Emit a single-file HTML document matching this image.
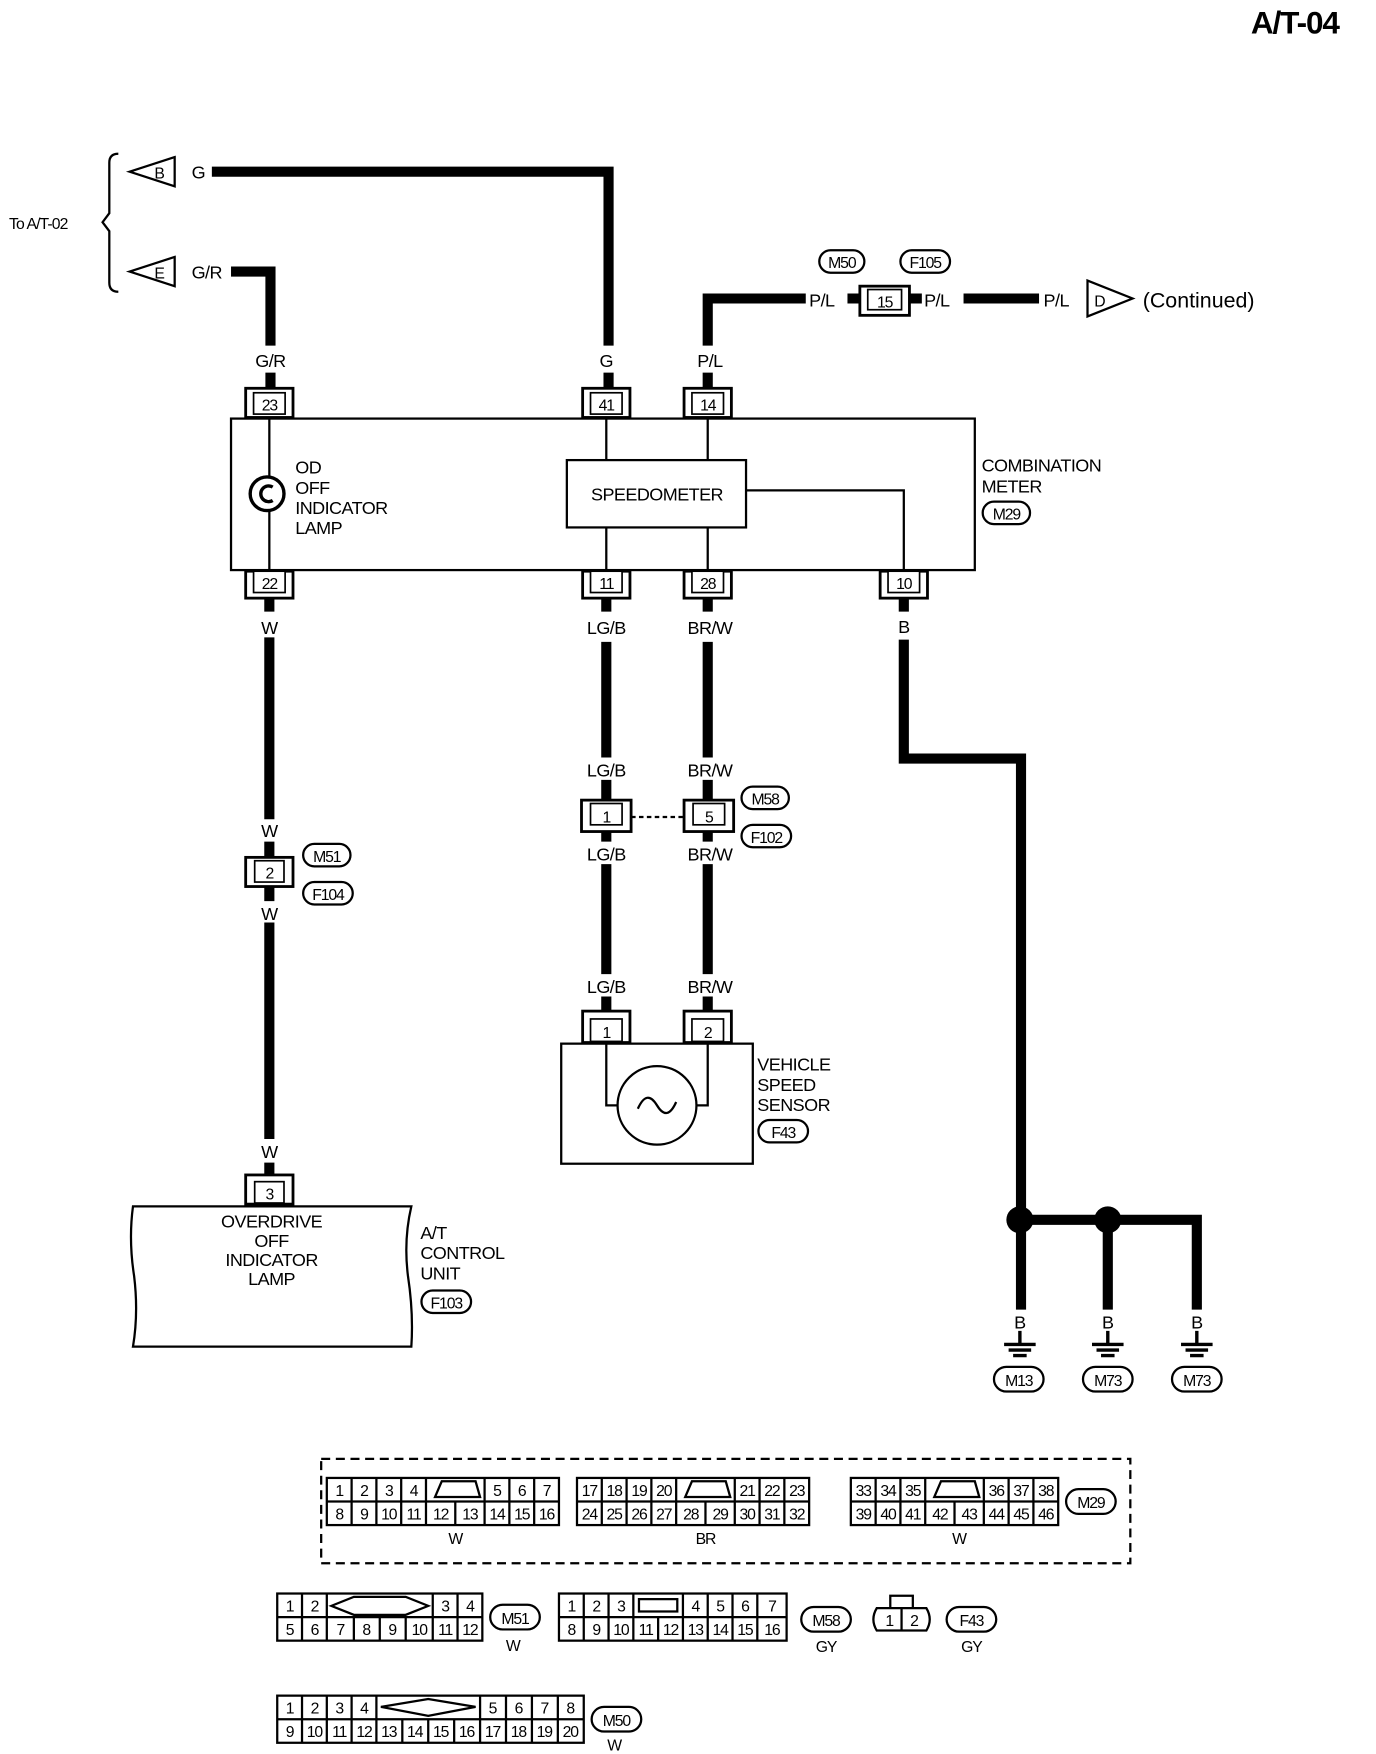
<!DOCTYPE html>
<html><head><meta charset="utf-8"><style>
html,body{margin:0;padding:0;background:#fff}
svg{display:block}
text{font-family:"Liberation Sans",Arial,sans-serif;fill:#000}
.t{font-size:16px;letter-spacing:-0.5px}
.s{font-size:14px;letter-spacing:-0.8px}
.p{font-size:14px;text-anchor:middle;letter-spacing:-1px}
.w{stroke:#000;stroke-width:9;fill:none}
.l{stroke:#000;stroke-width:2;fill:none}
.c rect{fill:#fff;stroke:#000}
</style></head><body>
<svg width="1376" height="1754" viewBox="0 0 1221 1563" preserveAspectRatio="none" xmlns="http://www.w3.org/2000/svg">
<text x="1110" y="30" style="font-size:28px;font-weight:bold;letter-spacing:-1px">A/T-04</text>
<path class="l" d="M105,137 Q97,137 97,145 L97,190 L91,198 L97,206 L97,252 Q97,260 105,260"/>
<text x="8" y="204" class="s">To A/T-02</text>
<path class="l" d="M155,140 L115,153 L155,166 Z"/><text x="137" y="159" class="s">B</text>
<text x="170" y="159" class="t">G</text>
<path class="w" d="M188,153 L540,153 L540,308 M540,332 L540,345"/>
<path class="l" d="M155,229 L115,242 L155,255 Z"/><text x="137" y="248" class="s">E</text>
<text x="170" y="248" class="t">G/R</text>
<path class="w" d="M205,242 L240,242 L240,308 M240,332 L240,345"/>
<text x="240" y="327" class="t" text-anchor="middle">G/R</text>
<text x="538" y="327" class="t" text-anchor="middle">G</text>
<text x="630" y="327" class="t" text-anchor="middle">P/L</text>
<path class="w" d="M628,308 L628,266 L715,266 M628,332 L628,345"/>
<text x="718" y="273" class="t">P/L</text>
<path class="w" d="M752,266 L765,266 M805,266 L818,266"/>
<g class="c"><rect x="763" y="255" width="44" height="26" stroke-width="2.5"/><rect x="770" y="258" width="30" height="18" stroke-width="1.5"/></g>
<text x="785" y="274" class="p">15</text>
<text x="820" y="273" class="t">P/L</text>
<path class="w" d="M855,266 L922,266"/>
<text x="926" y="273" class="t">P/L</text>
<path class="l" d="M965,250 L1005,266 L965,282 Z"/><text x="971" y="273" class="s">D</text>
<text x="1014" y="274" style="font-size:19px">(Continued)</text>
<rect x="727" y="223" width="40" height="20" rx="10" class="l"/><text x="747" y="239" class="p">M50</text>
<rect x="799" y="223" width="44" height="20" rx="10" class="l"/><text x="821" y="239" class="p">F105</text>
<rect x="205" y="373" width="660" height="135" class="l"/>
<g class="c">
<rect x="218" y="346" width="42" height="26" stroke-width="2.5"/><rect x="225" y="350" width="28" height="19" stroke-width="1.5"/>
<rect x="517" y="346" width="42" height="26" stroke-width="2.5"/><rect x="524" y="350" width="28" height="19" stroke-width="1.5"/>
<rect x="607" y="346" width="42" height="26" stroke-width="2.5"/><rect x="614" y="350" width="28" height="19" stroke-width="1.5"/>
<rect x="218" y="509" width="42" height="24" stroke-width="2.5"/><rect x="225" y="509" width="28" height="19" stroke-width="1.5"/>
<rect x="517" y="509" width="42" height="24" stroke-width="2.5"/><rect x="524" y="509" width="28" height="19" stroke-width="1.5"/>
<rect x="607" y="509" width="42" height="24" stroke-width="2.5"/><rect x="614" y="509" width="28" height="19" stroke-width="1.5"/>
<rect x="781" y="509" width="42" height="24" stroke-width="2.5"/><rect x="788" y="509" width="28" height="19" stroke-width="1.5"/>
</g>
<text x="239" y="366" class="p">23</text><text x="538" y="366" class="p">41</text><text x="628" y="366" class="p">14</text>
<text x="239" y="525" class="p">22</text><text x="538" y="525" class="p">11</text><text x="628" y="525" class="p">28</text><text x="802" y="525" class="p">10</text>
<path class="l" d="M239,373 L239,425 M239,455 L239,508 M538,373 L538,410 M628,373 L628,410 M538,470 L538,508 M628,470 L628,508 M662,437 L802,437 L802,508"/>
<circle cx="237" cy="440" r="15" stroke="#000" stroke-width="3" fill="#fff"/>
<path d="M242,434 A7,7 0 1 0 242,446" stroke="#000" stroke-width="3" fill="none"/>
<text x="262" y="422" class="t">OD</text><text x="262" y="440" class="t">OFF</text><text x="262" y="458" class="t">INDICATOR</text><text x="262" y="476" class="t">LAMP</text>
<rect x="503" y="410" width="159" height="60" class="l"/>
<text x="583" y="446" class="t" text-anchor="middle">SPEEDOMETER</text>
<text x="871" y="420" class="t">COMBINATION</text><text x="871" y="439" class="t">METER</text>
<rect x="872" y="447" width="42" height="20" rx="10" class="l"/><text x="893" y="463" class="p">M29</text>
<path class="w" d="M239,533 L239,545 M239,568 L239,730 M239,822 L239,1015"/>
<text x="239" y="565" class="t" text-anchor="middle">W</text>
<text x="239" y="746" class="t" text-anchor="middle">W</text>
<path class="w" d="M239,750 L239,765 M239,790 L239,803"/>
<g class="c"><rect x="218" y="764" width="42" height="26" stroke-width="2.5"/><rect x="226" y="767" width="26" height="19" stroke-width="1.5"/></g>
<text x="239" y="783" class="p">2</text>
<text x="239" y="820" class="t" text-anchor="middle">W</text>
<rect x="269" y="752" width="42" height="20" rx="10" class="l"/><text x="290" y="768" class="p">M51</text>
<rect x="269" y="786" width="44" height="20" rx="10" class="l"/><text x="291" y="802" class="p">F104</text>
<text x="239" y="1032" class="t" text-anchor="middle">W</text>
<path class="w" d="M239,1036 L239,1048"/>
<g class="c"><rect x="218" y="1047" width="42" height="26" stroke-width="2.5"/><rect x="226" y="1053" width="26" height="19" stroke-width="1.5"/></g>
<text x="239" y="1069" class="p">3</text>
<path class="l" stroke-width="2.5" d="M118,1075 L365,1075 Q358,1105 362,1137 Q367,1170 365,1200 L118,1200 Q123,1170 119,1137 Q114,1105 118,1075 Z"/>
<g class="t" text-anchor="middle"><text x="241" y="1094">OVERDRIVE</text><text x="241" y="1111">OFF</text><text x="241" y="1128">INDICATOR</text><text x="241" y="1145">LAMP</text></g>
<text x="373" y="1104" class="t">A/T</text><text x="373" y="1122" class="t">CONTROL</text><text x="373" y="1140" class="t">UNIT</text>
<rect x="374" y="1150" width="44" height="20" rx="10" class="l"/><text x="396" y="1166" class="p">F103</text>
<path class="w" d="M538,533 L538,545 M538,572 L538,675 M538,770 L538,868 M628,533 L628,545 M628,572 L628,675 M628,770 L628,868"/>
<text x="538" y="565" class="t" text-anchor="middle">LG/B</text><text x="630" y="565" class="t" text-anchor="middle">BR/W</text>
<text x="538" y="692" class="t" text-anchor="middle">LG/B</text><text x="630" y="692" class="t" text-anchor="middle">BR/W</text>
<path class="w" d="M538,695 L538,715 M538,740 L538,750 M628,695 L628,715 M628,740 L628,750"/>
<g class="c"><rect x="516" y="713" width="44" height="28" stroke-width="2.5"/><rect x="524" y="716" width="28" height="19" stroke-width="1.5"/>
<rect x="607" y="713" width="44" height="28" stroke-width="2.5"/><rect x="615" y="716" width="28" height="19" stroke-width="1.5"/></g>
<text x="538" y="733" class="p">1</text><text x="629" y="733" class="p">5</text>
<path d="M560,728 L607,728" stroke="#000" stroke-width="2" stroke-dasharray="4,3"/>
<rect x="658" y="701" width="42" height="20" rx="10" class="l"/><text x="679" y="717" class="p">M58</text>
<rect x="658" y="735" width="44" height="20" rx="10" class="l"/><text x="680" y="751" class="p">F102</text>
<text x="538" y="767" class="t" text-anchor="middle">LG/B</text><text x="630" y="767" class="t" text-anchor="middle">BR/W</text>
<text x="538" y="885" class="t" text-anchor="middle">LG/B</text><text x="630" y="885" class="t" text-anchor="middle">BR/W</text>
<path class="w" d="M538,888 L538,902 M628,888 L628,902"/>
<g class="c"><rect x="517" y="901" width="42" height="28" stroke-width="2.5"/><rect x="524" y="908" width="28" height="20" stroke-width="1.5"/>
<rect x="607" y="901" width="42" height="28" stroke-width="2.5"/><rect x="614" y="908" width="28" height="20" stroke-width="1.5"/></g>
<text x="538" y="925" class="p">1</text><text x="628" y="925" class="p">2</text>
<rect x="498" y="930" width="170" height="107" class="l"/>
<circle cx="583" cy="985" r="35" class="l"/>
<path d="M566,988 Q574,970 583,985 Q592,1000 600,982" class="l"/>
<path class="l" d="M538,929 L538,985 L548,985 M628,929 L628,985 L618,985"/>
<text x="672" y="954" class="t">VEHICLE</text><text x="672" y="972" class="t">SPEED</text><text x="672" y="990" class="t">SENSOR</text>
<rect x="673" y="998" width="44" height="20" rx="10" class="l"/><text x="695" y="1014" class="p">F43</text>
<text x="802" y="564" class="t" text-anchor="middle">B</text>
<path class="w" d="M802,533 L802,545 M802,570 L802,676 L906,676 L906,1167 M906,1087 L1062,1087 L1062,1167 M983,1087 L983,1167"/>
<circle cx="905" cy="1087" r="12"/><circle cx="983" cy="1087" r="12"/>
<g class="t" text-anchor="middle"><text x="905" y="1184">B</text><text x="983" y="1184">B</text><text x="1062" y="1184">B</text></g>
<g stroke="#000" stroke-width="3">
<path d="M905,1186 L905,1198 M891,1198 L919,1198 M895,1203 L915,1203 M899,1208 L911,1208"/>
<path d="M983,1186 L983,1198 M969,1198 L997,1198 M973,1203 L993,1203 M977,1208 L989,1208"/>
<path d="M1062,1186 L1062,1198 M1048,1198 L1076,1198 M1052,1203 L1072,1203 M1056,1208 L1068,1208"/>
</g>
<rect x="882" y="1218" width="44" height="22" rx="11" class="l"/><text x="904" y="1235" class="p">M13</text>
<rect x="961" y="1218" width="44" height="22" rx="11" class="l"/><text x="983" y="1235" class="p">M73</text>
<rect x="1040" y="1218" width="44" height="22" rx="11" class="l"/><text x="1062" y="1235" class="p">M73</text>
<rect x="285" y="1300" width="718" height="93" fill="none" stroke="#000" stroke-width="2" stroke-dasharray="8,5"/>
<g fill="none" stroke="#000" stroke-width="2">
<rect x="290" y="1317" width="206" height="42"/><path d="M290,1338 H496 M312,1317 V1359 M334,1317 V1359 M356,1317 V1359 M378,1317 V1359 M404,1338 V1359 M430,1317 V1359 M452,1317 V1359 M474,1317 V1359"/>
<path d="M386,1334 L392,1320 L422,1320 L426,1334 Z"/>
<rect x="512" y="1317" width="206" height="42"/><path d="M512,1338 H718 M534,1317 V1359 M556,1317 V1359 M578,1317 V1359 M600,1317 V1359 M626,1338 V1359 M652,1317 V1359 M674,1317 V1359 M696,1317 V1359"/>
<path d="M608,1334 L614,1320 L644,1320 L648,1334 Z"/>
<rect x="755" y="1317" width="184" height="42"/><path d="M755,1338 H939 M777,1317 V1359 M799,1317 V1359 M821,1317 V1359 M847,1338 V1359 M873,1317 V1359 M895,1317 V1359 M917,1317 V1359"/>
<path d="M829,1334 L835,1320 L865,1320 L869,1334 Z"/>
</g>
<g class="p">
<text x="301" y="1333">1</text><text x="323" y="1333">2</text><text x="345" y="1333">3</text><text x="367" y="1333">4</text><text x="441" y="1333">5</text><text x="463" y="1333">6</text><text x="485" y="1333">7</text>
<text x="301" y="1354">8</text><text x="323" y="1354">9</text><text x="345" y="1354">10</text><text x="367" y="1354">11</text><text x="391" y="1354">12</text><text x="417" y="1354">13</text><text x="441" y="1354">14</text><text x="463" y="1354">15</text><text x="485" y="1354">16</text>
<text x="523" y="1333">17</text><text x="545" y="1333">18</text><text x="567" y="1333">19</text><text x="589" y="1333">20</text><text x="663" y="1333">21</text><text x="685" y="1333">22</text><text x="707" y="1333">23</text>
<text x="523" y="1354">24</text><text x="545" y="1354">25</text><text x="567" y="1354">26</text><text x="589" y="1354">27</text><text x="613" y="1354">28</text><text x="639" y="1354">29</text><text x="663" y="1354">30</text><text x="685" y="1354">31</text><text x="707" y="1354">32</text>
<text x="766" y="1333">33</text><text x="788" y="1333">34</text><text x="810" y="1333">35</text><text x="884" y="1333">36</text><text x="906" y="1333">37</text><text x="928" y="1333">38</text>
<text x="766" y="1354">39</text><text x="788" y="1354">40</text><text x="810" y="1354">41</text><text x="834" y="1354">42</text><text x="860" y="1354">43</text><text x="884" y="1354">44</text><text x="906" y="1354">45</text><text x="928" y="1354">46</text>
<text x="404" y="1376">W</text><text x="626" y="1376">BR</text><text x="851" y="1376">W</text>
</g>
<rect x="946" y="1327" width="44" height="22" rx="11" class="l"/><text x="968" y="1344" class="p">M29</text>
<g fill="none" stroke="#000" stroke-width="2">
<rect x="246" y="1420" width="182" height="42"/><path d="M246,1441 H428 M268,1420 V1462 M290,1420 V1462 M384,1420 V1462 M406,1420 V1462 M314,1441 V1462 M337,1441 V1462 M360,1441 V1462"/>
<path d="M294,1431 L314,1423 L360,1423 L380,1431 L360,1439 L314,1439 Z"/>
<rect x="496" y="1420" width="202" height="42"/><path d="M496,1441 H698 M518,1420 V1462 M540,1420 V1462 M562,1420 V1462 M606,1420 V1462 M628,1420 V1462 M650,1420 V1462 M672,1420 V1462 M584,1441 V1462"/>
<rect x="567" y="1425" width="34" height="11"/>
<path d="M778,1433 H822 Q828,1443 822,1453 H778 Q772,1443 778,1433 Z M800,1433 V1453 M790,1433 V1422 H810 V1433"/>
<rect x="246" y="1511" width="272" height="42"/><path d="M246,1532 H518 M268,1511 V1553 M290,1511 V1553 M312,1511 V1553 M334,1511 V1553 M426,1511 V1553 M449,1511 V1553 M472,1511 V1553 M495,1511 V1553 M357,1532 V1553 M380,1532 V1553 M403,1532 V1553"/>
<path d="M338,1521 L380,1514 L422,1521 L380,1529 Z"/>
</g>
<g class="p">
<text x="257" y="1436">1</text><text x="279" y="1436">2</text><text x="395" y="1436">3</text><text x="417" y="1436">4</text>
<text x="257" y="1457">5</text><text x="279" y="1457">6</text><text x="302" y="1457">7</text><text x="325" y="1457">8</text><text x="348" y="1457">9</text><text x="372" y="1457">10</text><text x="395" y="1457">11</text><text x="417" y="1457">12</text>
<text x="507" y="1436">1</text><text x="529" y="1436">2</text><text x="551" y="1436">3</text><text x="617" y="1436">4</text><text x="639" y="1436">5</text><text x="661" y="1436">6</text><text x="685" y="1436">7</text>
<text x="507" y="1457">8</text><text x="529" y="1457">9</text><text x="551" y="1457">10</text><text x="573" y="1457">11</text><text x="595" y="1457">12</text><text x="617" y="1457">13</text><text x="639" y="1457">14</text><text x="661" y="1457">15</text><text x="685" y="1457">16</text>
<text x="789" y="1449">1</text><text x="811" y="1449">2</text>
<text x="257" y="1527">1</text><text x="279" y="1527">2</text><text x="301" y="1527">3</text><text x="323" y="1527">4</text><text x="437" y="1527">5</text><text x="460" y="1527">6</text><text x="483" y="1527">7</text><text x="506" y="1527">8</text>
<text x="257" y="1548">9</text><text x="279" y="1548">10</text><text x="301" y="1548">11</text><text x="323" y="1548">12</text><text x="345" y="1548">13</text><text x="368" y="1548">14</text><text x="391" y="1548">15</text><text x="414" y="1548">16</text><text x="437" y="1548">17</text><text x="460" y="1548">18</text><text x="483" y="1548">19</text><text x="506" y="1548">20</text>
<text x="455" y="1471">W</text><text x="733" y="1472">GY</text><text x="862" y="1472">GY</text><text x="545" y="1560">W</text>
</g>
<rect x="435" y="1430" width="44" height="22" rx="11" class="l"/><text x="457" y="1447" class="p">M51</text>
<rect x="711" y="1432" width="44" height="22" rx="11" class="l"/><text x="733" y="1449" class="p">M58</text>
<rect x="840" y="1432" width="44" height="22" rx="11" class="l"/><text x="862" y="1449" class="p">F43</text>
<rect x="525" y="1521" width="44" height="22" rx="11" class="l"/><text x="547" y="1538" class="p">M50</text>
</svg>
</body></html>
